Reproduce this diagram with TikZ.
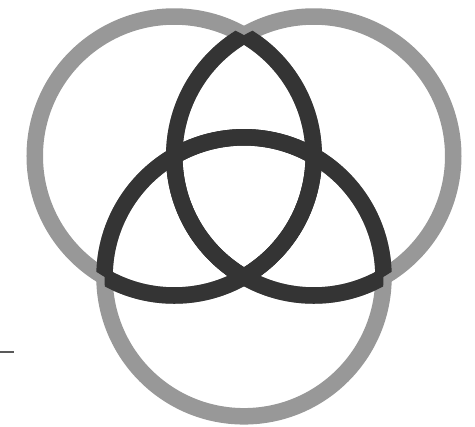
\documentclass[tikz,border=0pt]{standalone}
\usepackage{tikz}
\definecolor{ringlight}{RGB}{152,152,152}
\definecolor{ringdark}{RGB}{52,52,52}
\begin{document}
\begin{tikzpicture}[x=0.01cm, y=0.01cm,
    lightring/.style={line width=0.165cm, ringlight},
    darkring/.style={line width=0.165cm, ringdark}]
    \useasboundingbox (0,0) rectangle (475,426);
    % Centros de los tres anillos (cada uno pasa por los otros dos)
    \coordinate (L) at (174.25,270);
    \coordinate (R) at (313.75,270);
    \coordinate (B) at (244,149.2);
    
    % Anillos completos en gris claro
    \draw[lightring] (L) circle[radius=139.5];
    \draw[lightring] (R) circle[radius=139.5];
    \draw[lightring] (B) circle[radius=139.5];
    
    % Partes de cada anillo dentro de otro disco, en gris oscuro
    \foreach \ring/\cutA/\cutB in {L/R/B, R/L/B, B/L/R} {
        \begin{scope}
            \clip (\cutA) circle[radius=139.5];
            \draw[darkring] (\ring) circle[radius=139.5];
        \end{scope}
        \begin{scope}
            \clip (\cutB) circle[radius=139.5];
            \draw[darkring] (\ring) circle[radius=139.5];
        \end{scope}
    }
    
    % Trazo corto del margen
    \coordinate (m1) at (0,74);
    \coordinate (m2) at (14,74);
    \draw[line width=0.4pt, black!65] (m1) -- (m2);
\end{tikzpicture}
\end{document}
